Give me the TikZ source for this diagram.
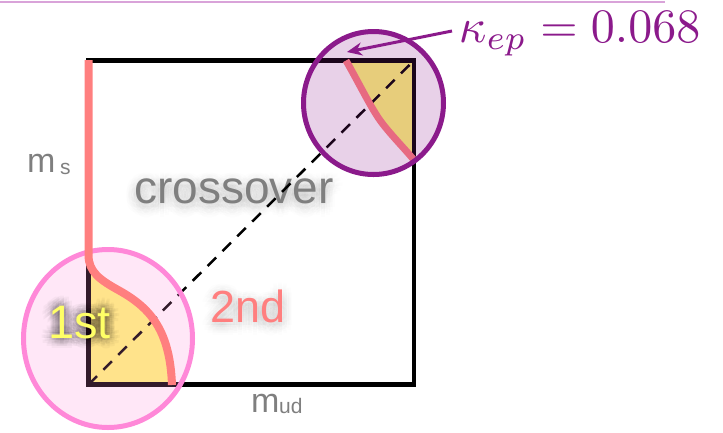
\documentclass[tikz,border=0pt]{standalone}
\usepackage{graphicx}
\usepackage[no-math]{fontspec}
\setmainfont{Liberation Sans}
\usetikzlibrary{arrows.meta}
\definecolor{salmon}{HTML}{FF7F7F}
\definecolor{pinkc}{HTML}{FF88D8}
\definecolor{purp}{HTML}{8B1A8B}
\definecolor{yel}{HTML}{FFFA78}
\definecolor{topline}{HTML}{D9A3D9}
\definecolor{graytxt}{HTML}{7F7F7F}
\definecolor{firstyel}{HTML}{FFFF66}
\newcommand{\halotext}[7]{%
  % #1 name, #2 position, #3 text, #4 colour, #5 shadow colour, #6 shadow opacity, #7 shadow offset
  \foreach \aa in {0,30,...,330}{\foreach \rr in {2.5,5,7.5,10}{
    \node[anchor=base west, inner sep=0, text=#5, text opacity=#6,
          shift={(\aa:\rr pt)}, shift={(0pt,#7)}] at (#2) {#3};}}
  \node[name=#1, anchor=base west, inner sep=0, text=#4] at (#2) {#3};
}
\tikzset{
  sq/.style={line width=4.5pt, black, line join=miter},
  scurve/.style={salmon, line width=8pt},
  diag/.style={black, line width=2.5pt, dash pattern=on 12pt off 9pt},
  bigtxt/.style={anchor=base west, inner sep=0},
}
\begin{document}
\begin{tikzpicture}[x=1pt,y=-1pt]
\useasboundingbox (0,0) rectangle (723,432);
% top line
\draw[topline, line width=2pt] (0,1.5) -- (665,1.5);
% yellow regions
\fill[yel] (88.5,384.5) -- (88.5,255) .. controls (88.5,272) and (100,280) .. (120,291)
  .. controls (150,308) and (170,330) .. (172,384.5) -- cycle;
\fill[yel] (346,60.5) .. controls (360,85) and (372,110) .. (382,123)
  .. controls (392,136) and (404,148) .. (414,160) -- (414,60.5) -- cycle;
% crossover text (under the diagonal)
\halotext{cross}{134,203}{\fontsize{46}{46}\selectfont crossover}{graytxt}{black}{0.009}{-4pt}
% square
\draw[sq] (88.5,60.5) rectangle (414,384.5);
% diagonal
\coordinate (bl) at (88.5,384.5);
\coordinate (tr) at (414,60.5);
\draw[diag] (bl) -- (tr);
% top-right curve
\draw[salmon, line width=7pt] (346,60.5) .. controls (360,85) and (372,110) .. (382,123)
  .. controls (392,136) and (404,148) .. (414,160);
% pink circle
\draw[pinkc, line width=5pt, fill=pinkc, fill opacity=0.2] (108,338.5) ellipse [x radius=84.5pt, y radius=89pt];
% bottom-left curve
\draw[scurve] (88.5,60) -- (88.5,255) .. controls (88.5,272) and (100,280) .. (120,291)
  .. controls (150,308) and (170,330) .. (172,385);
% purple circle
\draw[purp, line width=5pt, fill=purp, fill opacity=0.2] (373.5,103) ellipse [x radius=70pt, y radius=71.5pt];
% kappa label
\node[anchor=base east, inner sep=0, text=purp] (kap) at (700.5,42.5) {\scalebox{4.8}{$\kappa_{ep}=0.068$}};
\coordinate (astart) at (452,31);
\coordinate (tip) at (347,52);
\draw[purp, line width=3pt, -{Stealth[length=15pt,width=13pt]}] (astart) -- (tip);
% 2nd and 1st with shadows
\halotext{second}{210.5,322}{\fontsize{45}{45}\selectfont 2nd}{salmon}{black}{0.006}{-3pt}
\halotext{first}{48,338}{\fontsize{47}{47}\selectfont 1st}{firstyel}{black}{0.032}{0pt}
% axis labels
\node[bigtxt, text=graytxt, font=\fontsize{34}{34}\selectfont] (ms) at (27,172) {m};
\node[bigtxt, text=graytxt, font=\fontsize{21}{21}\selectfont] (mss) at (60,174) {s};
\node[bigtxt, text=graytxt, font=\fontsize{34}{34}\selectfont] (mu) at (251,412) {m};
\node[bigtxt, text=graytxt, font=\fontsize{21}{21}\selectfont] (mus) at (279,413) {ud};
\end{tikzpicture}
\end{document}
